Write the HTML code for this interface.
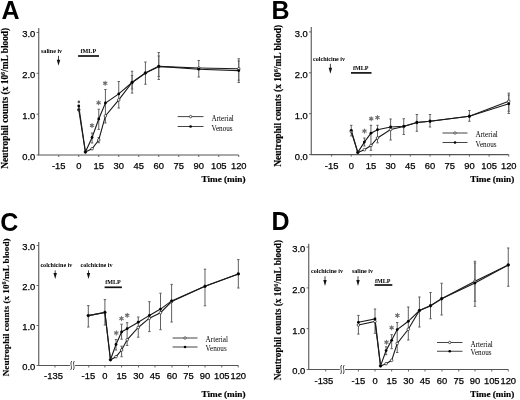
<!DOCTYPE html>
<html><head><meta charset="utf-8"><title>Neutrophil counts</title>
<style>html,body{margin:0;padding:0;background:#fff;width:520px;height:400px;overflow:hidden}svg{display:block;will-change:transform}</style>
</head><body>
<svg width="520" height="400" viewBox="0 0 520 400">
<rect width="520" height="400" fill="#fff"/>
<text x="1.6" y="19.3" font-family='"Liberation Sans", sans-serif' font-weight="bold" font-size="25">A</text>
<text transform="translate(8,98.25) rotate(-90)" text-anchor="middle" font-family='"Liberation Serif", serif' font-weight="bold" font-size="9.4" stroke="#000" stroke-width="0.15">Neutrophil counts (x 10<tspan font-size="6.11" dy="-3">6</tspan><tspan dy="3">/mL blood)</tspan></text>
<path d="M38.75 28V155H238.75" fill="none" stroke="#555" stroke-width="1.1"/>
<path d="M36.55 32.5H38.75" stroke="#555" stroke-width="0.9"/>
<text x="35.25" y="37.4" text-anchor="end" font-family='"Liberation Sans", sans-serif' font-size="9.4" stroke="#000" stroke-width="0.25">3.0</text>
<path d="M36.55 73.33H38.75" stroke="#555" stroke-width="0.9"/>
<text x="35.25" y="78.23" text-anchor="end" font-family='"Liberation Sans", sans-serif' font-size="9.4" stroke="#000" stroke-width="0.25">2.0</text>
<path d="M36.55 114.17H38.75" stroke="#555" stroke-width="0.9"/>
<text x="35.25" y="119.07" text-anchor="end" font-family='"Liberation Sans", sans-serif' font-size="9.4" stroke="#000" stroke-width="0.25">1.0</text>
<path d="M36.55 155H38.75" stroke="#555" stroke-width="0.9"/>
<text x="35.25" y="159.9" text-anchor="end" font-family='"Liberation Sans", sans-serif' font-size="9.4" stroke="#000" stroke-width="0.25">0.0</text>
<path d="M58.75 155V157" stroke="#555" stroke-width="0.9"/>
<text x="58.75" y="168.8" text-anchor="middle" font-family='"Liberation Sans", sans-serif' font-size="9.4" stroke="#000" stroke-width="0.25">-15</text>
<path d="M78.75 155V157" stroke="#555" stroke-width="0.9"/>
<text x="78.75" y="168.8" text-anchor="middle" font-family='"Liberation Sans", sans-serif' font-size="9.4" stroke="#000" stroke-width="0.25">0</text>
<path d="M98.75 155V157" stroke="#555" stroke-width="0.9"/>
<text x="98.75" y="168.8" text-anchor="middle" font-family='"Liberation Sans", sans-serif' font-size="9.4" stroke="#000" stroke-width="0.25">15</text>
<path d="M118.75 155V157" stroke="#555" stroke-width="0.9"/>
<text x="118.75" y="168.8" text-anchor="middle" font-family='"Liberation Sans", sans-serif' font-size="9.4" stroke="#000" stroke-width="0.25">30</text>
<path d="M138.75 155V157" stroke="#555" stroke-width="0.9"/>
<text x="138.75" y="168.8" text-anchor="middle" font-family='"Liberation Sans", sans-serif' font-size="9.4" stroke="#000" stroke-width="0.25">45</text>
<path d="M158.75 155V157" stroke="#555" stroke-width="0.9"/>
<text x="158.75" y="168.8" text-anchor="middle" font-family='"Liberation Sans", sans-serif' font-size="9.4" stroke="#000" stroke-width="0.25">60</text>
<path d="M178.75 155V157" stroke="#555" stroke-width="0.9"/>
<text x="178.75" y="168.8" text-anchor="middle" font-family='"Liberation Sans", sans-serif' font-size="9.4" stroke="#000" stroke-width="0.25">75</text>
<path d="M198.75 155V157" stroke="#555" stroke-width="0.9"/>
<text x="198.75" y="168.8" text-anchor="middle" font-family='"Liberation Sans", sans-serif' font-size="9.4" stroke="#000" stroke-width="0.25">90</text>
<path d="M218.75 155V157" stroke="#555" stroke-width="0.9"/>
<text x="218.75" y="168.8" text-anchor="middle" font-family='"Liberation Sans", sans-serif' font-size="9.4" stroke="#000" stroke-width="0.25">105</text>
<path d="M238.75 155V157" stroke="#555" stroke-width="0.9"/>
<text x="238.75" y="168.8" text-anchor="middle" font-family='"Liberation Sans", sans-serif' font-size="9.4" stroke="#000" stroke-width="0.25">120</text>
<text x="245.5" y="182" text-anchor="end" font-family='"Liberation Serif", serif' font-weight="bold" font-size="9.2" stroke="#000" stroke-width="0.2">Time (min)</text>
<text x="41" y="53" font-family='"Liberation Serif", serif' font-weight="bold" font-size="6.1">saline iv</text>
<text x="80.6" y="53.2" font-family='"Liberation Serif", serif' font-weight="bold" font-size="6.1">fMLP</text>
<path d="M58.5 55.8V60.8" stroke="#111" stroke-width="0.8"/>
<path d="M56.8 59.8L60.2 59.8L58.5 65.8Z" fill="#111"/>
<path d="M78.1 56H99" stroke="#111" stroke-width="1.7"/>
<path d="M92.08 133V143M90.88 133H93.28M90.88 143H93.28" stroke="#606060" stroke-width="1" fill="none"/>
<path d="M98.75 109.25V129.4M97.55 109.25H99.95M97.55 129.4H99.95" stroke="#606060" stroke-width="1" fill="none"/>
<path d="M98.75 137.5V142.75M97.55 137.5H99.95M97.55 142.75H99.95" stroke="#606060" stroke-width="1" fill="none"/>
<path d="M105.42 89.5V123M104.22 89.5H106.62M104.22 123H106.62" stroke="#606060" stroke-width="1" fill="none"/>
<path d="M118.75 81.5V108M117.55 81.5H119.95M117.55 108H119.95" stroke="#606060" stroke-width="1" fill="none"/>
<path d="M132.08 71.25V93.1M130.88 71.25H133.28M130.88 93.1H133.28" stroke="#606060" stroke-width="1" fill="none"/>
<path d="M145.42 62V84.25M144.22 62H146.62M144.22 84.25H146.62" stroke="#606060" stroke-width="1" fill="none"/>
<path d="M158.75 52.5V79.5M157.55 52.5H159.95M157.55 79.5H159.95" stroke="#606060" stroke-width="1" fill="none"/>
<path d="M198.75 60.5V77M197.55 60.5H199.95M197.55 77H199.95" stroke="#606060" stroke-width="1" fill="none"/>
<path d="M238.75 58.75V82.5M237.55 58.75H239.95M237.55 82.5H239.95" stroke="#606060" stroke-width="1" fill="none"/>
<path d="M132.08 75.5V89M130.88 75.5H133.28M130.88 89H133.28" stroke="#606060" stroke-width="1" fill="none"/>
<path d="M158.75 56V76.5M157.55 56H159.95M157.55 76.5H159.95" stroke="#606060" stroke-width="1" fill="none"/>
<path d="M238.75 61V80.2M237.55 61H239.95M237.55 80.2H239.95" stroke="#606060" stroke-width="1" fill="none"/>
<path d="M78.75 109.75 L85.42 152 L92.08 148.75 L98.75 140 L105.42 115.9 L118.75 99.9 L132.08 82.5 L145.42 73 L158.75 66.4 L198.75 68 L238.75 68.8" fill="none" stroke="#1a1a1a" stroke-width="1.1"/>
<path d="M78.75 106 L85.42 152 L92.08 137.5 L98.75 119 L105.42 103 L118.75 93.9 L132.08 82.5 L145.42 73 L158.75 66.4 L198.75 69.2 L238.75 70.6" fill="none" stroke="#1a1a1a" stroke-width="1.1"/>
<circle cx="78.75" cy="109.75" r="1.3" fill="#fff" stroke="#1a1a1a" stroke-width="0.7"/>
<circle cx="85.42" cy="152" r="1.3" fill="#fff" stroke="#1a1a1a" stroke-width="0.7"/>
<circle cx="92.08" cy="148.75" r="1.3" fill="#fff" stroke="#1a1a1a" stroke-width="0.7"/>
<circle cx="98.75" cy="140" r="1.3" fill="#fff" stroke="#1a1a1a" stroke-width="0.7"/>
<circle cx="105.42" cy="115.9" r="1.3" fill="#fff" stroke="#1a1a1a" stroke-width="0.7"/>
<circle cx="118.75" cy="99.9" r="1.3" fill="#fff" stroke="#1a1a1a" stroke-width="0.7"/>
<circle cx="132.08" cy="82.5" r="1.3" fill="#fff" stroke="#1a1a1a" stroke-width="0.7"/>
<circle cx="145.42" cy="73" r="1.3" fill="#fff" stroke="#1a1a1a" stroke-width="0.7"/>
<circle cx="158.75" cy="66.4" r="1.3" fill="#fff" stroke="#1a1a1a" stroke-width="0.7"/>
<circle cx="198.75" cy="68" r="1.3" fill="#fff" stroke="#1a1a1a" stroke-width="0.7"/>
<circle cx="238.75" cy="68.8" r="1.3" fill="#fff" stroke="#1a1a1a" stroke-width="0.7"/>
<circle cx="78.75" cy="106" r="1.4" fill="#000"/>
<circle cx="85.42" cy="152" r="1.4" fill="#000"/>
<circle cx="92.08" cy="137.5" r="1.4" fill="#000"/>
<circle cx="98.75" cy="119" r="1.4" fill="#000"/>
<circle cx="105.42" cy="103" r="1.4" fill="#000"/>
<circle cx="118.75" cy="93.9" r="1.4" fill="#000"/>
<circle cx="132.08" cy="82.5" r="1.4" fill="#000"/>
<circle cx="145.42" cy="73" r="1.4" fill="#000"/>
<circle cx="158.75" cy="66.4" r="1.4" fill="#000"/>
<circle cx="198.75" cy="69.2" r="1.4" fill="#000"/>
<circle cx="238.75" cy="70.6" r="1.4" fill="#000"/>
<path d="M92 123.5L92 127.5M90.27 124.5L93.73 126.5M93.73 124.5L90.27 126.5" stroke="#707070" stroke-width="1.1" stroke-linecap="round"/>
<circle cx="92" cy="125.5" r="1.1" fill="#707070"/>
<path d="M98.6 100.8L98.6 104.8M96.87 101.8L100.33 103.8M100.33 101.8L96.87 103.8" stroke="#707070" stroke-width="1.1" stroke-linecap="round"/>
<circle cx="98.6" cy="102.8" r="1.1" fill="#707070"/>
<path d="M105.2 81.2L105.2 85.2M103.47 82.2L106.93 84.2M106.93 82.2L103.47 84.2" stroke="#707070" stroke-width="1.1" stroke-linecap="round"/>
<circle cx="105.2" cy="83.2" r="1.1" fill="#707070"/>
<circle cx="78.85" cy="101.9" r="1.3" fill="#555"/>
<circle cx="78.85" cy="109.75" r="1.3" fill="#222"/>
<path d="M177.7 116.6H203.5M177.7 126.5H203.5" stroke="#444" stroke-width="1"/>
<circle cx="190.6" cy="116.6" r="1.2" fill="#fff" stroke="#1a1a1a" stroke-width="0.7"/>
<circle cx="190.6" cy="126.5" r="1.3" fill="#000"/>
<text x="211.5" y="120.8" font-family='"Liberation Serif", serif' font-size="7.2">Arterial</text>
<text x="211.5" y="130.7" font-family='"Liberation Serif", serif' font-size="7.2">Venous</text>
<text x="271.5" y="18.9" font-family='"Liberation Sans", sans-serif' font-weight="bold" font-size="25">B</text>
<text transform="translate(281,95.85) rotate(-90)" text-anchor="middle" font-family='"Liberation Serif", serif' font-weight="bold" font-size="9.45" stroke="#000" stroke-width="0.15">Neutrophil counts (x 10<tspan font-size="6.14" dy="-3">6</tspan><tspan dy="3">/mL blood)</tspan></text>
<path d="M311.25 26.9V154.6H508.75" fill="none" stroke="#555" stroke-width="1.1"/>
<path d="M309.05 31.9H311.25" stroke="#555" stroke-width="0.9"/>
<text x="307.75" y="36.8" text-anchor="end" font-family='"Liberation Sans", sans-serif' font-size="9.4" stroke="#000" stroke-width="0.25">3.0</text>
<path d="M309.05 72.8H311.25" stroke="#555" stroke-width="0.9"/>
<text x="307.75" y="77.7" text-anchor="end" font-family='"Liberation Sans", sans-serif' font-size="9.4" stroke="#000" stroke-width="0.25">2.0</text>
<path d="M309.05 113.7H311.25" stroke="#555" stroke-width="0.9"/>
<text x="307.75" y="118.6" text-anchor="end" font-family='"Liberation Sans", sans-serif' font-size="9.4" stroke="#000" stroke-width="0.25">1.0</text>
<path d="M309.05 154.6H311.25" stroke="#555" stroke-width="0.9"/>
<text x="307.75" y="159.5" text-anchor="end" font-family='"Liberation Sans", sans-serif' font-size="9.4" stroke="#000" stroke-width="0.25">0.0</text>
<path d="M331.6 154.6V156.6" stroke="#555" stroke-width="0.9"/>
<text x="331.6" y="168.6" text-anchor="middle" font-family='"Liberation Sans", sans-serif' font-size="9.4" stroke="#000" stroke-width="0.25">-15</text>
<path d="M351.25 154.6V156.6" stroke="#555" stroke-width="0.9"/>
<text x="351.25" y="168.6" text-anchor="middle" font-family='"Liberation Sans", sans-serif' font-size="9.4" stroke="#000" stroke-width="0.25">0</text>
<path d="M370.9 154.6V156.6" stroke="#555" stroke-width="0.9"/>
<text x="370.9" y="168.6" text-anchor="middle" font-family='"Liberation Sans", sans-serif' font-size="9.4" stroke="#000" stroke-width="0.25">15</text>
<path d="M390.6 154.6V156.6" stroke="#555" stroke-width="0.9"/>
<text x="390.6" y="168.6" text-anchor="middle" font-family='"Liberation Sans", sans-serif' font-size="9.4" stroke="#000" stroke-width="0.25">30</text>
<path d="M410.3 154.6V156.6" stroke="#555" stroke-width="0.9"/>
<text x="410.3" y="168.6" text-anchor="middle" font-family='"Liberation Sans", sans-serif' font-size="9.4" stroke="#000" stroke-width="0.25">45</text>
<path d="M430 154.6V156.6" stroke="#555" stroke-width="0.9"/>
<text x="430" y="168.6" text-anchor="middle" font-family='"Liberation Sans", sans-serif' font-size="9.4" stroke="#000" stroke-width="0.25">60</text>
<path d="M449.7 154.6V156.6" stroke="#555" stroke-width="0.9"/>
<text x="449.7" y="168.6" text-anchor="middle" font-family='"Liberation Sans", sans-serif' font-size="9.4" stroke="#000" stroke-width="0.25">75</text>
<path d="M469.4 154.6V156.6" stroke="#555" stroke-width="0.9"/>
<text x="469.4" y="168.6" text-anchor="middle" font-family='"Liberation Sans", sans-serif' font-size="9.4" stroke="#000" stroke-width="0.25">90</text>
<path d="M489.1 154.6V156.6" stroke="#555" stroke-width="0.9"/>
<text x="489.1" y="168.6" text-anchor="middle" font-family='"Liberation Sans", sans-serif' font-size="9.4" stroke="#000" stroke-width="0.25">105</text>
<path d="M508.75 154.6V156.6" stroke="#555" stroke-width="0.9"/>
<text x="508.75" y="168.6" text-anchor="middle" font-family='"Liberation Sans", sans-serif' font-size="9.4" stroke="#000" stroke-width="0.25">120</text>
<text x="514.25" y="181.8" text-anchor="end" font-family='"Liberation Serif", serif' font-weight="bold" font-size="9.2" stroke="#000" stroke-width="0.2">Time (min)</text>
<text x="313" y="61.4" font-family='"Liberation Serif", serif' font-weight="bold" font-size="6.1">colchicine iv</text>
<text x="352.9" y="69.7" font-family='"Liberation Serif", serif' font-weight="bold" font-size="6.1">fMLP</text>
<path d="M330.4 63.8V68.8" stroke="#111" stroke-width="0.8"/>
<path d="M328.7 67.8L332.1 67.8L330.4 73.8Z" fill="#111"/>
<path d="M351 72.9H371.5" stroke="#111" stroke-width="1.7"/>
<path d="M351.25 125.3V135.9M350.05 125.3H352.45M350.05 135.9H352.45" stroke="#606060" stroke-width="1" fill="none"/>
<path d="M364.38 138V146M363.18 138H365.57M363.18 146H365.57" stroke="#606060" stroke-width="1" fill="none"/>
<path d="M370.94 125.3V150.3M369.74 125.3H372.14M369.74 150.3H372.14" stroke="#606060" stroke-width="1" fill="none"/>
<path d="M377.5 125.3V142.8M376.3 125.3H378.7M376.3 142.8H378.7" stroke="#606060" stroke-width="1" fill="none"/>
<path d="M390.62 119V140M389.43 119H391.82M389.43 140H391.82" stroke="#606060" stroke-width="1" fill="none"/>
<path d="M403.75 118.75V134.5M402.55 118.75H404.95M402.55 134.5H404.95" stroke="#606060" stroke-width="1" fill="none"/>
<path d="M416.88 114.5V131.25M415.68 114.5H418.07M415.68 131.25H418.07" stroke="#606060" stroke-width="1" fill="none"/>
<path d="M430 114.5V127M428.8 114.5H431.2M428.8 127H431.2" stroke="#606060" stroke-width="1" fill="none"/>
<path d="M469.38 110.5V121.25M468.18 110.5H470.57M468.18 121.25H470.57" stroke="#606060" stroke-width="1" fill="none"/>
<path d="M508.75 93.1V113.5M507.55 93.1H509.95M507.55 113.5H509.95" stroke="#606060" stroke-width="1" fill="none"/>
<path d="M508.75 95V111.25M507.55 95H509.95M507.55 111.25H509.95" stroke="#606060" stroke-width="1" fill="none"/>
<path d="M351.25 131.5 L357.81 152.4 L364.38 149.7 L370.94 145.5 L377.5 138 L390.62 129.5 L403.75 126.5 L416.88 122.5 L430 121.25 L469.38 116.25 L508.75 101.3" fill="none" stroke="#1a1a1a" stroke-width="1.1"/>
<path d="M351.25 130.3 L357.81 152.4 L364.38 142.1 L370.94 133.2 L377.5 129.7 L390.62 127 L403.75 126.3 L416.88 122.5 L430 121.25 L469.38 116.25 L508.75 103.8" fill="none" stroke="#1a1a1a" stroke-width="1.1"/>
<circle cx="351.25" cy="131.5" r="1.3" fill="#fff" stroke="#1a1a1a" stroke-width="0.7"/>
<circle cx="357.81" cy="152.4" r="1.3" fill="#fff" stroke="#1a1a1a" stroke-width="0.7"/>
<circle cx="364.38" cy="149.7" r="1.3" fill="#fff" stroke="#1a1a1a" stroke-width="0.7"/>
<circle cx="370.94" cy="145.5" r="1.3" fill="#fff" stroke="#1a1a1a" stroke-width="0.7"/>
<circle cx="377.5" cy="138" r="1.3" fill="#fff" stroke="#1a1a1a" stroke-width="0.7"/>
<circle cx="390.62" cy="129.5" r="1.3" fill="#fff" stroke="#1a1a1a" stroke-width="0.7"/>
<circle cx="403.75" cy="126.5" r="1.3" fill="#fff" stroke="#1a1a1a" stroke-width="0.7"/>
<circle cx="416.88" cy="122.5" r="1.3" fill="#fff" stroke="#1a1a1a" stroke-width="0.7"/>
<circle cx="430" cy="121.25" r="1.3" fill="#fff" stroke="#1a1a1a" stroke-width="0.7"/>
<circle cx="469.38" cy="116.25" r="1.3" fill="#fff" stroke="#1a1a1a" stroke-width="0.7"/>
<circle cx="508.75" cy="101.3" r="1.3" fill="#fff" stroke="#1a1a1a" stroke-width="0.7"/>
<circle cx="351.25" cy="130.3" r="1.4" fill="#000"/>
<circle cx="357.81" cy="152.4" r="1.4" fill="#000"/>
<circle cx="364.38" cy="142.1" r="1.4" fill="#000"/>
<circle cx="370.94" cy="133.2" r="1.4" fill="#000"/>
<circle cx="377.5" cy="129.7" r="1.4" fill="#000"/>
<circle cx="390.62" cy="127" r="1.4" fill="#000"/>
<circle cx="403.75" cy="126.3" r="1.4" fill="#000"/>
<circle cx="416.88" cy="122.5" r="1.4" fill="#000"/>
<circle cx="430" cy="121.25" r="1.4" fill="#000"/>
<circle cx="469.38" cy="116.25" r="1.4" fill="#000"/>
<circle cx="508.75" cy="103.8" r="1.4" fill="#000"/>
<path d="M364.5 129.1L364.5 133.1M362.77 130.1L366.23 132.1M366.23 130.1L362.77 132.1" stroke="#707070" stroke-width="1.1" stroke-linecap="round"/>
<circle cx="364.5" cy="131.1" r="1.1" fill="#707070"/>
<path d="M371.2 116.7L371.2 120.7M369.47 117.7L372.93 119.7M372.93 117.7L369.47 119.7" stroke="#707070" stroke-width="1.1" stroke-linecap="round"/>
<circle cx="371.2" cy="118.7" r="1.1" fill="#707070"/>
<path d="M377.5 115.6L377.5 119.6M375.77 116.6L379.23 118.6M379.23 116.6L375.77 118.6" stroke="#707070" stroke-width="1.1" stroke-linecap="round"/>
<circle cx="377.5" cy="117.6" r="1.1" fill="#707070"/>
<path d="M442.5 133H467.5M442.5 142.5H467.5" stroke="#444" stroke-width="1"/>
<circle cx="455" cy="133" r="1.2" fill="#fff" stroke="#1a1a1a" stroke-width="0.7"/>
<circle cx="455" cy="142.5" r="1.3" fill="#000"/>
<text x="475.5" y="137.2" font-family='"Liberation Serif", serif' font-size="7.2">Arterial</text>
<text x="475.5" y="146.7" font-family='"Liberation Serif", serif' font-size="7.2">Venous</text>
<text x="0.3" y="230.6" font-family='"Liberation Sans", sans-serif' font-weight="bold" font-size="25">C</text>
<text transform="translate(9,307.35) rotate(-90)" text-anchor="middle" font-family='"Liberation Serif", serif' font-weight="bold" font-size="9.18" stroke="#000" stroke-width="0.15">Neutrophil counts (x 10<tspan font-size="5.97" dy="-3">6</tspan><tspan dy="3">/mL blood)</tspan></text>
<path d="M38.75 242V365.5H238.25" fill="none" stroke="#555" stroke-width="1.1"/>
<path d="M36.55 245.5H38.75" stroke="#555" stroke-width="0.9"/>
<text x="35.25" y="250.4" text-anchor="end" font-family='"Liberation Sans", sans-serif' font-size="9.4" stroke="#000" stroke-width="0.25">3.0</text>
<path d="M36.55 285.5H38.75" stroke="#555" stroke-width="0.9"/>
<text x="35.25" y="290.4" text-anchor="end" font-family='"Liberation Sans", sans-serif' font-size="9.4" stroke="#000" stroke-width="0.25">2.0</text>
<path d="M36.55 325.5H38.75" stroke="#555" stroke-width="0.9"/>
<text x="35.25" y="330.4" text-anchor="end" font-family='"Liberation Sans", sans-serif' font-size="9.4" stroke="#000" stroke-width="0.25">1.0</text>
<path d="M36.55 365.5H38.75" stroke="#555" stroke-width="0.9"/>
<text x="35.25" y="370.4" text-anchor="end" font-family='"Liberation Sans", sans-serif' font-size="9.4" stroke="#000" stroke-width="0.25">0.0</text>
<path d="M55 365.5V367.5" stroke="#555" stroke-width="0.9"/>
<text x="53.5" y="378.9" text-anchor="middle" font-family='"Liberation Sans", sans-serif' font-size="9.4" stroke="#000" stroke-width="0.25">-135</text>
<path d="M88.75 365.5V367.5" stroke="#555" stroke-width="0.9"/>
<text x="88.35" y="378.9" text-anchor="middle" font-family='"Liberation Sans", sans-serif' font-size="9.4" stroke="#000" stroke-width="0.25">-15</text>
<path d="M104.9 365.5V367.5" stroke="#555" stroke-width="0.9"/>
<text x="104.9" y="378.9" text-anchor="middle" font-family='"Liberation Sans", sans-serif' font-size="9.4" stroke="#000" stroke-width="0.25">0</text>
<path d="M121.6 365.5V367.5" stroke="#555" stroke-width="0.9"/>
<text x="121.6" y="378.9" text-anchor="middle" font-family='"Liberation Sans", sans-serif' font-size="9.4" stroke="#000" stroke-width="0.25">15</text>
<path d="M138.5 365.5V367.5" stroke="#555" stroke-width="0.9"/>
<text x="138.5" y="378.9" text-anchor="middle" font-family='"Liberation Sans", sans-serif' font-size="9.4" stroke="#000" stroke-width="0.25">30</text>
<path d="M155 365.5V367.5" stroke="#555" stroke-width="0.9"/>
<text x="155" y="378.9" text-anchor="middle" font-family='"Liberation Sans", sans-serif' font-size="9.4" stroke="#000" stroke-width="0.25">45</text>
<path d="M172 365.5V367.5" stroke="#555" stroke-width="0.9"/>
<text x="172" y="378.9" text-anchor="middle" font-family='"Liberation Sans", sans-serif' font-size="9.4" stroke="#000" stroke-width="0.25">60</text>
<path d="M188.5 365.5V367.5" stroke="#555" stroke-width="0.9"/>
<text x="188.5" y="378.9" text-anchor="middle" font-family='"Liberation Sans", sans-serif' font-size="9.4" stroke="#000" stroke-width="0.25">75</text>
<path d="M205 365.5V367.5" stroke="#555" stroke-width="0.9"/>
<text x="205" y="378.9" text-anchor="middle" font-family='"Liberation Sans", sans-serif' font-size="9.4" stroke="#000" stroke-width="0.25">90</text>
<path d="M221.75 365.5V367.5" stroke="#555" stroke-width="0.9"/>
<text x="221.75" y="378.9" text-anchor="middle" font-family='"Liberation Sans", sans-serif' font-size="9.4" stroke="#000" stroke-width="0.25">105</text>
<path d="M238.25 365.5V367.5" stroke="#555" stroke-width="0.9"/>
<text x="238.25" y="378.9" text-anchor="middle" font-family='"Liberation Sans", sans-serif' font-size="9.4" stroke="#000" stroke-width="0.25">120</text>
<rect x="69.9" y="363.5" width="5.2" height="4" fill="#fff"/>
<path d="M71.8 361C69.4 363.5 73 367.5 70.6 370" fill="none" stroke="#333" stroke-width="0.9"/>
<path d="M74.4 361C72 363.5 75.6 367.5 73.2 370" fill="none" stroke="#333" stroke-width="0.9"/>
<text x="245.5" y="396.8" text-anchor="end" font-family='"Liberation Serif", serif' font-weight="bold" font-size="9.2" stroke="#000" stroke-width="0.2">Time (min)</text>
<text x="40.4" y="267.3" font-family='"Liberation Serif", serif' font-weight="bold" font-size="6.1">colchicine iv</text>
<text x="80.6" y="267.3" font-family='"Liberation Serif", serif' font-weight="bold" font-size="6.1">colchicine iv</text>
<text x="105.2" y="283.9" font-family='"Liberation Serif", serif' font-weight="bold" font-size="6.1">fMLP</text>
<path d="M55.2 270.4V274" stroke="#111" stroke-width="0.8"/>
<path d="M53.5 273L56.9 273L55.2 279Z" fill="#111"/>
<path d="M88.5 270.4V274" stroke="#111" stroke-width="0.8"/>
<path d="M86.8 273L90.2 273L88.5 279Z" fill="#111"/>
<path d="M104.6 287.3H121.9" stroke="#111" stroke-width="1.7"/>
<path d="M88.3 305.6V327M87.1 305.6H89.5M87.1 327H89.5" stroke="#606060" stroke-width="1" fill="none"/>
<path d="M104.9 299.6V325M103.7 299.6H106.1M103.7 325H106.1" stroke="#606060" stroke-width="1" fill="none"/>
<path d="M116.02 339.5V350M114.82 339.5H117.22M114.82 350H117.22" stroke="#606060" stroke-width="1" fill="none"/>
<path d="M121.58 324.2V339.2M120.38 324.2H122.78M120.38 339.2H122.78" stroke="#606060" stroke-width="1" fill="none"/>
<path d="M121.58 346.2V356.7M120.38 346.2H122.78M120.38 356.7H122.78" stroke="#606060" stroke-width="1" fill="none"/>
<path d="M127.14 322.7V345.5M125.94 322.7H128.34M125.94 345.5H128.34" stroke="#606060" stroke-width="1" fill="none"/>
<path d="M138.26 317V337.2M137.06 317H139.46M137.06 337.2H139.46" stroke="#606060" stroke-width="1" fill="none"/>
<path d="M149.38 301.7V331.6M148.18 301.7H150.58M148.18 331.6H150.58" stroke="#606060" stroke-width="1" fill="none"/>
<path d="M160.5 293.2V329.7M159.3 293.2H161.7M159.3 329.7H161.7" stroke="#606060" stroke-width="1" fill="none"/>
<path d="M171.62 284.4V322M170.42 284.4H172.82M170.42 322H172.82" stroke="#606060" stroke-width="1" fill="none"/>
<path d="M204.98 269.2V305.8M203.78 269.2H206.18M203.78 305.8H206.18" stroke="#606060" stroke-width="1" fill="none"/>
<path d="M238.34 259.6V288M237.14 259.6H239.54M237.14 288H239.54" stroke="#606060" stroke-width="1" fill="none"/>
<path d="M88.3 315.6 L104.9 312.4 L110.46 359.8 L116.02 356.7 L121.58 350 L127.14 339.8 L138.26 327.5 L149.38 318.2 L160.5 312.7 L171.62 301.5 L204.98 286.3 L238.34 273.9" fill="none" stroke="#1a1a1a" stroke-width="1.1"/>
<path d="M88.3 315.6 L104.9 312.4 L110.46 359.8 L116.02 344.5 L121.58 332 L127.14 328.7 L138.26 322.2 L149.38 315.4 L160.5 309.1 L171.62 300.9 L204.98 286.3 L238.34 273.9" fill="none" stroke="#1a1a1a" stroke-width="1.1"/>
<circle cx="88.3" cy="315.6" r="1.3" fill="#fff" stroke="#1a1a1a" stroke-width="0.7"/>
<circle cx="104.9" cy="312.4" r="1.3" fill="#fff" stroke="#1a1a1a" stroke-width="0.7"/>
<circle cx="110.46" cy="359.8" r="1.3" fill="#fff" stroke="#1a1a1a" stroke-width="0.7"/>
<circle cx="116.02" cy="356.7" r="1.3" fill="#fff" stroke="#1a1a1a" stroke-width="0.7"/>
<circle cx="121.58" cy="350" r="1.3" fill="#fff" stroke="#1a1a1a" stroke-width="0.7"/>
<circle cx="127.14" cy="339.8" r="1.3" fill="#fff" stroke="#1a1a1a" stroke-width="0.7"/>
<circle cx="138.26" cy="327.5" r="1.3" fill="#fff" stroke="#1a1a1a" stroke-width="0.7"/>
<circle cx="149.38" cy="318.2" r="1.3" fill="#fff" stroke="#1a1a1a" stroke-width="0.7"/>
<circle cx="160.5" cy="312.7" r="1.3" fill="#fff" stroke="#1a1a1a" stroke-width="0.7"/>
<circle cx="171.62" cy="301.5" r="1.3" fill="#fff" stroke="#1a1a1a" stroke-width="0.7"/>
<circle cx="204.98" cy="286.3" r="1.3" fill="#fff" stroke="#1a1a1a" stroke-width="0.7"/>
<circle cx="238.34" cy="273.9" r="1.3" fill="#fff" stroke="#1a1a1a" stroke-width="0.7"/>
<circle cx="88.3" cy="315.6" r="1.4" fill="#000"/>
<circle cx="104.9" cy="312.4" r="1.4" fill="#000"/>
<circle cx="110.46" cy="359.8" r="1.4" fill="#000"/>
<circle cx="116.02" cy="344.5" r="1.4" fill="#000"/>
<circle cx="121.58" cy="332" r="1.4" fill="#000"/>
<circle cx="127.14" cy="328.7" r="1.4" fill="#000"/>
<circle cx="138.26" cy="322.2" r="1.4" fill="#000"/>
<circle cx="149.38" cy="315.4" r="1.4" fill="#000"/>
<circle cx="160.5" cy="309.1" r="1.4" fill="#000"/>
<circle cx="171.62" cy="300.9" r="1.4" fill="#000"/>
<circle cx="204.98" cy="286.3" r="1.4" fill="#000"/>
<circle cx="238.34" cy="273.9" r="1.4" fill="#000"/>
<path d="M116.3 330.9L116.3 334.9M114.57 331.9L118.03 333.9M118.03 331.9L114.57 333.9" stroke="#707070" stroke-width="1.1" stroke-linecap="round"/>
<circle cx="116.3" cy="332.9" r="1.1" fill="#707070"/>
<path d="M121.5 316.6L121.5 320.6M119.77 317.6L123.23 319.6M123.23 317.6L119.77 319.6" stroke="#707070" stroke-width="1.1" stroke-linecap="round"/>
<circle cx="121.5" cy="318.6" r="1.1" fill="#707070"/>
<path d="M127.2 313.3L127.2 317.3M125.47 314.3L128.93 316.3M128.93 314.3L125.47 316.3" stroke="#707070" stroke-width="1.1" stroke-linecap="round"/>
<circle cx="127.2" cy="315.3" r="1.1" fill="#707070"/>
<path d="M172.6 338H197.5M172.6 347H197.5" stroke="#444" stroke-width="1"/>
<circle cx="185.05" cy="338" r="1.2" fill="#fff" stroke="#1a1a1a" stroke-width="0.7"/>
<circle cx="185.05" cy="347" r="1.3" fill="#000"/>
<text x="205.6" y="342.2" font-family='"Liberation Serif", serif' font-size="7.2">Arterial</text>
<text x="205.6" y="351.2" font-family='"Liberation Serif", serif' font-size="7.2">Venous</text>
<text x="271.5" y="230.2" font-family='"Liberation Sans", sans-serif' font-weight="bold" font-size="25">D</text>
<text transform="translate(280.6,310.1) rotate(-90)" text-anchor="middle" font-family='"Liberation Serif", serif' font-weight="bold" font-size="9.35" stroke="#000" stroke-width="0.15">Neutrophil counts (x 10<tspan font-size="6.08" dy="-3">6</tspan><tspan dy="3">/mL blood)</tspan></text>
<path d="M308.75 243.75V369.5H508.25" fill="none" stroke="#555" stroke-width="1.1"/>
<path d="M306.55 247.1H308.75" stroke="#555" stroke-width="0.9"/>
<text x="305.25" y="252" text-anchor="end" font-family='"Liberation Sans", sans-serif' font-size="9.4" stroke="#000" stroke-width="0.25">3.0</text>
<path d="M306.55 287.9H308.75" stroke="#555" stroke-width="0.9"/>
<text x="305.25" y="292.8" text-anchor="end" font-family='"Liberation Sans", sans-serif' font-size="9.4" stroke="#000" stroke-width="0.25">2.0</text>
<path d="M306.55 328.7H308.75" stroke="#555" stroke-width="0.9"/>
<text x="305.25" y="333.6" text-anchor="end" font-family='"Liberation Sans", sans-serif' font-size="9.4" stroke="#000" stroke-width="0.25">1.0</text>
<path d="M306.55 369.5H308.75" stroke="#555" stroke-width="0.9"/>
<text x="305.25" y="374.4" text-anchor="end" font-family='"Liberation Sans", sans-serif' font-size="9.4" stroke="#000" stroke-width="0.25">0.0</text>
<path d="M325.7 369.5V371.5" stroke="#555" stroke-width="0.9"/>
<text x="323.9" y="383.8" text-anchor="middle" font-family='"Liberation Sans", sans-serif' font-size="9.4" stroke="#000" stroke-width="0.25">-135</text>
<path d="M358.4 369.5V371.5" stroke="#555" stroke-width="0.9"/>
<text x="358.4" y="383.8" text-anchor="middle" font-family='"Liberation Sans", sans-serif' font-size="9.4" stroke="#000" stroke-width="0.25">-15</text>
<path d="M375 369.5V371.5" stroke="#555" stroke-width="0.9"/>
<text x="375" y="383.8" text-anchor="middle" font-family='"Liberation Sans", sans-serif' font-size="9.4" stroke="#000" stroke-width="0.25">0</text>
<path d="M391.65 369.5V371.5" stroke="#555" stroke-width="0.9"/>
<text x="391.65" y="383.8" text-anchor="middle" font-family='"Liberation Sans", sans-serif' font-size="9.4" stroke="#000" stroke-width="0.25">15</text>
<path d="M408.5 369.5V371.5" stroke="#555" stroke-width="0.9"/>
<text x="408.5" y="383.8" text-anchor="middle" font-family='"Liberation Sans", sans-serif' font-size="9.4" stroke="#000" stroke-width="0.25">30</text>
<path d="M425 369.5V371.5" stroke="#555" stroke-width="0.9"/>
<text x="425" y="383.8" text-anchor="middle" font-family='"Liberation Sans", sans-serif' font-size="9.4" stroke="#000" stroke-width="0.25">45</text>
<path d="M442 369.5V371.5" stroke="#555" stroke-width="0.9"/>
<text x="442" y="383.8" text-anchor="middle" font-family='"Liberation Sans", sans-serif' font-size="9.4" stroke="#000" stroke-width="0.25">60</text>
<path d="M458.75 369.5V371.5" stroke="#555" stroke-width="0.9"/>
<text x="458.75" y="383.8" text-anchor="middle" font-family='"Liberation Sans", sans-serif' font-size="9.4" stroke="#000" stroke-width="0.25">75</text>
<path d="M475 369.5V371.5" stroke="#555" stroke-width="0.9"/>
<text x="475" y="383.8" text-anchor="middle" font-family='"Liberation Sans", sans-serif' font-size="9.4" stroke="#000" stroke-width="0.25">90</text>
<path d="M491.75 369.5V371.5" stroke="#555" stroke-width="0.9"/>
<text x="491.75" y="383.8" text-anchor="middle" font-family='"Liberation Sans", sans-serif' font-size="9.4" stroke="#000" stroke-width="0.25">105</text>
<path d="M508.25 369.5V371.5" stroke="#555" stroke-width="0.9"/>
<text x="508.25" y="383.8" text-anchor="middle" font-family='"Liberation Sans", sans-serif' font-size="9.4" stroke="#000" stroke-width="0.25">120</text>
<rect x="339.8" y="367.5" width="5.2" height="4" fill="#fff"/>
<path d="M341.7 365C339.3 367.5 342.9 371.5 340.5 374" fill="none" stroke="#333" stroke-width="0.9"/>
<path d="M344.3 365C341.9 367.5 345.5 371.5 343.1 374" fill="none" stroke="#333" stroke-width="0.9"/>
<text x="514.25" y="396.8" text-anchor="end" font-family='"Liberation Serif", serif' font-weight="bold" font-size="9.2" stroke="#000" stroke-width="0.2">Time (min)</text>
<text x="311" y="273.1" font-family='"Liberation Serif", serif' font-weight="bold" font-size="6.1">colchicine iv</text>
<text x="351.9" y="273.1" font-family='"Liberation Serif", serif' font-weight="bold" font-size="6.1">saline iv</text>
<text x="375" y="282.8" font-family='"Liberation Serif", serif' font-weight="bold" font-size="6.1">fMLP</text>
<path d="M325 276.3V281" stroke="#111" stroke-width="0.8"/>
<path d="M323.3 280L326.7 280L325 286Z" fill="#111"/>
<path d="M358 276.3V281" stroke="#111" stroke-width="0.8"/>
<path d="M356.3 280L359.7 280L358 286Z" fill="#111"/>
<path d="M374.6 285H392.3" stroke="#111" stroke-width="1.7"/>
<path d="M358.4 315.4V334.1M357.2 315.4H359.6M357.2 334.1H359.6" stroke="#606060" stroke-width="1" fill="none"/>
<path d="M375 309V333.3M373.8 309H376.2M373.8 333.3H376.2" stroke="#606060" stroke-width="1" fill="none"/>
<path d="M386.1 346.8V354.7M384.9 346.8H387.3M384.9 354.7H387.3" stroke="#606060" stroke-width="1" fill="none"/>
<path d="M391.66 334.7V348.7M390.46 334.7H392.86M390.46 348.7H392.86" stroke="#606060" stroke-width="1" fill="none"/>
<path d="M397.21 322.5V352.5M396.01 322.5H398.41M396.01 352.5H398.41" stroke="#606060" stroke-width="1" fill="none"/>
<path d="M408.31 307V340M407.11 307H409.51M407.11 340H409.51" stroke="#606060" stroke-width="1" fill="none"/>
<path d="M419.42 297V327M418.22 297H420.62M418.22 327H420.62" stroke="#606060" stroke-width="1" fill="none"/>
<path d="M430.52 292.5V318.75M429.32 292.5H431.72M429.32 318.75H431.72" stroke="#606060" stroke-width="1" fill="none"/>
<path d="M441.62 283.25V315M440.42 283.25H442.82M440.42 315H442.82" stroke="#606060" stroke-width="1" fill="none"/>
<path d="M474.94 261.25V306.25M473.74 261.25H476.14M473.74 306.25H476.14" stroke="#606060" stroke-width="1" fill="none"/>
<path d="M474.94 263V301.25M473.74 263H476.14M473.74 301.25H476.14" stroke="#606060" stroke-width="1" fill="none"/>
<path d="M508.25 248V286.25M507.05 248H509.45M507.05 286.25H509.45" stroke="#606060" stroke-width="1" fill="none"/>
<path d="M358.4 325 L375 321.5 L380.55 365.9 L386.1 363.7 L391.66 360.3 L397.21 343.5 L408.31 329.25 L419.42 310.5 L430.52 305.75 L441.62 298.75 L474.94 281.25 L508.25 265" fill="none" stroke="#1a1a1a" stroke-width="1.1"/>
<path d="M358.4 322.3 L375 318.9 L380.55 365.9 L386.1 350.6 L391.66 340.3 L397.21 329.6 L408.31 321.3 L419.42 310.5 L430.52 305.75 L441.62 298.75 L474.94 283 L508.25 265" fill="none" stroke="#1a1a1a" stroke-width="1.1"/>
<circle cx="358.4" cy="325" r="1.3" fill="#fff" stroke="#1a1a1a" stroke-width="0.7"/>
<circle cx="375" cy="321.5" r="1.3" fill="#fff" stroke="#1a1a1a" stroke-width="0.7"/>
<circle cx="380.55" cy="365.9" r="1.3" fill="#fff" stroke="#1a1a1a" stroke-width="0.7"/>
<circle cx="386.1" cy="363.7" r="1.3" fill="#fff" stroke="#1a1a1a" stroke-width="0.7"/>
<circle cx="391.66" cy="360.3" r="1.3" fill="#fff" stroke="#1a1a1a" stroke-width="0.7"/>
<circle cx="397.21" cy="343.5" r="1.3" fill="#fff" stroke="#1a1a1a" stroke-width="0.7"/>
<circle cx="408.31" cy="329.25" r="1.3" fill="#fff" stroke="#1a1a1a" stroke-width="0.7"/>
<circle cx="419.42" cy="310.5" r="1.3" fill="#fff" stroke="#1a1a1a" stroke-width="0.7"/>
<circle cx="430.52" cy="305.75" r="1.3" fill="#fff" stroke="#1a1a1a" stroke-width="0.7"/>
<circle cx="441.62" cy="298.75" r="1.3" fill="#fff" stroke="#1a1a1a" stroke-width="0.7"/>
<circle cx="474.94" cy="281.25" r="1.3" fill="#fff" stroke="#1a1a1a" stroke-width="0.7"/>
<circle cx="508.25" cy="265" r="1.3" fill="#fff" stroke="#1a1a1a" stroke-width="0.7"/>
<circle cx="358.4" cy="322.3" r="1.4" fill="#000"/>
<circle cx="375" cy="318.9" r="1.4" fill="#000"/>
<circle cx="380.55" cy="365.9" r="1.4" fill="#000"/>
<circle cx="386.1" cy="350.6" r="1.4" fill="#000"/>
<circle cx="391.66" cy="340.3" r="1.4" fill="#000"/>
<circle cx="397.21" cy="329.6" r="1.4" fill="#000"/>
<circle cx="408.31" cy="321.3" r="1.4" fill="#000"/>
<circle cx="419.42" cy="310.5" r="1.4" fill="#000"/>
<circle cx="430.52" cy="305.75" r="1.4" fill="#000"/>
<circle cx="441.62" cy="298.75" r="1.4" fill="#000"/>
<circle cx="474.94" cy="283" r="1.4" fill="#000"/>
<circle cx="508.25" cy="265" r="1.4" fill="#000"/>
<path d="M386.5 340.2L386.5 344.2M384.77 341.2L388.23 343.2M388.23 341.2L384.77 343.2" stroke="#707070" stroke-width="1.1" stroke-linecap="round"/>
<circle cx="386.5" cy="342.2" r="1.1" fill="#707070"/>
<path d="M391.6 325.7L391.6 329.7M389.87 326.7L393.33 328.7M393.33 326.7L389.87 328.7" stroke="#707070" stroke-width="1.1" stroke-linecap="round"/>
<circle cx="391.6" cy="327.7" r="1.1" fill="#707070"/>
<path d="M397.4 313.4L397.4 317.4M395.67 314.4L399.13 316.4M399.13 314.4L395.67 316.4" stroke="#707070" stroke-width="1.1" stroke-linecap="round"/>
<circle cx="397.4" cy="315.4" r="1.1" fill="#707070"/>
<path d="M437 342.5H462.5M437 351.25H462.5" stroke="#444" stroke-width="1"/>
<circle cx="449.75" cy="342.5" r="1.2" fill="#fff" stroke="#1a1a1a" stroke-width="0.7"/>
<circle cx="449.75" cy="351.25" r="1.3" fill="#000"/>
<text x="470.5" y="346.7" font-family='"Liberation Serif", serif' font-size="7.2">Arterial</text>
<text x="470.5" y="355.45" font-family='"Liberation Serif", serif' font-size="7.2">Venous</text>
</svg>
</body></html>
